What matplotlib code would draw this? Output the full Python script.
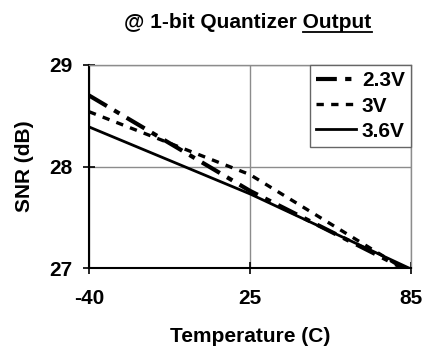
import matplotlib
matplotlib.use("Agg")
import matplotlib.pyplot as plt
from matplotlib.lines import Line2D

plt.rcParams["font.family"] = ["Liberation Sans", "DejaVu Sans"]
plt.rcParams["font.weight"] = "bold"

temps = ["-40", "25", "85"]
snr_23v = [28.70, 27.76, 26.96]
snr_3v = [28.54, 27.92, 26.95]
snr_36v = [28.39, 27.73, 26.99]
labels = ["2.3V", "3V", "3.6V"]

FS = 15


def main() -> None:
    fig = plt.figure(figsize=(4.24, 3.47), dpi=100)
    ax = fig.add_axes([89 / 424, 1 - 268 / 347, 322 / 424, 203 / 347])
    x = range(len(temps))

    ax.plot(x, snr_23v, color="black", linewidth=3.0, dashes=(5, 2, 1.5, 2), label=labels[0])
    ax.plot(x, snr_3v, color="black", linewidth=2.4, dashes=(2.2, 2.2), label=labels[1])
    ax.plot(x, snr_36v, color="black", linewidth=2.0, label=labels[2])

    ax.set_xlim(0, len(temps) - 1)
    ax.set_ylim(27, 29)
    ax.set_xticks(list(x))
    ax.set_xticklabels(temps)
    ax.set_yticks([27, 28, 29])
    ax.tick_params(direction="inout", length=8, width=1.2, labelsize=FS, pad=8)
    ax.tick_params(axis="x", pad=11)
    ax.grid(True, color="0.55", linewidth=1.0)
    for side in ("top", "right"):
        ax.spines[side].set_color("0.55")
        ax.spines[side].set_linewidth(1.0)
    for side in ("left", "bottom"):
        ax.spines[side].set_linewidth(1.5)

    ax.set_xlabel("Temperature (C)", fontsize=FS, fontweight="bold", labelpad=14)
    ax.set_ylabel("SNR (dB)", fontsize=FS, fontweight="bold", labelpad=11)

    leg = ax.legend(loc="upper right", bbox_to_anchor=(1.0, 1.0), borderaxespad=0,
                    fancybox=False, framealpha=1, edgecolor="0.4", fontsize=FS,
                    handlelength=1.9, handletextpad=0.3, borderpad=0.3, labelspacing=0.3)
    leg.get_frame().set_linewidth(1.0)

    # title with underlined last word
    t1 = fig.text(248 / 424, 1 - 23 / 347, "@ 1-bit Quantizer Output", ha="center", va="center",
                  fontsize=FS, fontweight="bold")
    fig.canvas.draw()
    renderer = fig.canvas.get_renderer()
    full = t1.get_window_extent(renderer)
    probe = fig.text(0, 0, "Output", fontsize=FS, fontweight="bold")
    w = probe.get_window_extent(renderer).width
    probe.remove()
    y0 = full.y0 + 1
    fig.add_artist(Line2D([(full.x1 - w) / 424, full.x1 / 424], [y0 / 347, y0 / 347],
                          color="black", linewidth=1.3, transform=fig.transFigure))

    fig.savefig("out.png", dpi=100)


if __name__ == "__main__":
    main()
